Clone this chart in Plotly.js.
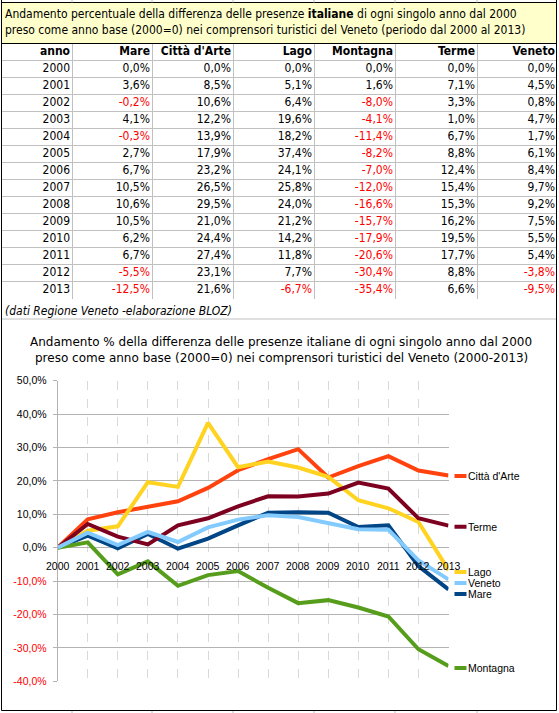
<!DOCTYPE html>
<html><head><meta charset="utf-8">
<script src="https://cdn.plot.ly/plotly-3.0.1.min.js"></script>
<style>html,body{margin:0;padding:0;background:#fff}#chart{width:559px;height:713px}</style>
</head><body><div id="chart"></div>
<script>
// ---- data ----
const years = [2000,2001,2002,2003,2004,2005,2006,2007,2008,2009,2010,2011,2012,2013];
const mare     = [0.0, 3.6, -0.2, 4.1, -0.3, 2.7, 6.7, 10.5, 10.6, 10.5, 6.2, 6.7, -5.5, -12.5];
const cittaArte= [0.0, 8.5, 10.6, 12.2, 13.9, 17.9, 23.2, 26.5, 29.5, 21.0, 24.4, 27.4, 23.1, 21.6];
const lago     = [0.0, 5.1, 6.4, 19.6, 18.2, 37.4, 24.1, 25.8, 24.0, 21.2, 14.2, 11.8, 7.7, -6.7];
const montagna = [0.0, 1.6, -8.0, -4.1, -11.4, -8.2, -7.0, -12.0, -16.6, -15.7, -17.9, -20.6, -30.4, -35.4];
const terme    = [0.0, 7.1, 3.3, 1.0, 6.7, 8.8, 12.4, 15.4, 15.3, 16.2, 19.5, 17.7, 8.8, 6.6];
const veneto   = [0.0, 4.5, 0.8, 4.7, 1.7, 6.1, 8.4, 9.7, 9.2, 7.5, 5.5, 5.4, -3.8, -9.5];
const seriesNames = ["Mare", "Città d'Arte", "Lago", "Montagna", "Terme", "Veneto"];
const seriesValues = [mare, cittaArte, lago, montagna, terme, veneto];
const tableHeader = ["anno"].concat(seriesNames);
const yTickVals = [-40,-30,-20,-10,0,10,20,30,40,50];
const xTickLabels = years.map(String);
const tableTitle1 = "Andamento percentuale della differenza delle presenze <b>italiane</b> di ogni singolo anno dal 2000";
const tableTitle2 = "preso come anno base (2000=0) nei comprensori turistici del Veneto (periodo dal 2000 al 2013)";
const sourceNote = "(dati Regione Veneto -elaborazione BLOZ)";
const chartTitle1 = "Andamento % della differenza delle presenze italiane di ogni singolo anno dal 2000";
const chartTitle2 = "preso come anno base (2000=0) nei comprensori turistici del Veneto (2000-2013)";

// ---- styles / layout ----
const W = 559, H = 713;
const colors = {"Mare":"#004586","Città d'Arte":"#ff420e","Lago":"#ffd320","Montagna":"#579d1c","Terme":"#7e0021","Veneto":"#83caff"};
const labelShift = {"Mare":-4.5,"Città d'Arte":-0.5,"Lago":-2,"Montagna":-2,"Terme":-1,"Veneto":-3.6};
const sheetFont = "DejaVu Sans Condensed, DejaVu Sans";
const chartFont = "Liberation Sans, Arial";
const px = x => x / W;
const py = y => 1 - y / H;
const fmt = v => v.toFixed(1).replace('.', ',') + '%';

// table geometry (pixel-unit axis)
const colBounds = [2,72,152,233,314,395,477,557];
const tableTop = 44, rowH = 16.97, nRows = years.length + 1;
const tableBottom = tableTop + rowH * nRows;
const cellPadRight = 2;

const traces = [];
const columns = [years.map(String)].concat(seriesValues.map(s=>s.map(fmt)));
const columnColors = [years.map(()=> '#000')].concat(seriesValues.map(s=>s.map(v=> v<0 ? '#ff0000' : '#000')));
columns.forEach((col,c)=>{
  const xr = colBounds[c+1] - cellPadRight;
  traces.push({type:'scatter', mode:'text', xaxis:'x3', yaxis:'y3', showlegend:false, hoverinfo:'skip',
    x: [xr].concat(col.map(()=>xr)),
    y: [0.5].concat(col.map((_,r)=>r+1.5)),
    text: ['<b>'+tableHeader[c]+'</b>'].concat(col),
    textposition:'middle left', cliponaxis:false,
    textfont:{family:sheetFont, size:12, color:['#000'].concat(columnColors[c])}});
});

seriesNames.forEach((name,i)=>{
  traces.push({type:'scatter', mode:'lines', x:years, y:seriesValues[i], name:name,
    line:{color:colors[name], width:4}, xaxis:'x', yaxis:'y', showlegend:false, hoverinfo:'skip'});
});

const annotations = [
  {text:tableTitle1, xref:'paper', yref:'paper', x:px(3), y:py(14), xanchor:'left', yanchor:'middle', showarrow:false, font:{family:sheetFont, size:12, color:'#000'}},
  {text:tableTitle2, xref:'paper', yref:'paper', x:px(3), y:py(30), xanchor:'left', yanchor:'middle', showarrow:false, font:{family:sheetFont, size:12, color:'#000'}},
  {text:'<i>'+sourceNote+'</i>', xref:'paper', yref:'paper', x:px(3), y:py(311), xanchor:'left', yanchor:'middle', showarrow:false, font:{family:sheetFont, size:12, color:'#000'}},
  {text:chartTitle1, xref:'paper', yref:'paper', x:px(281), y:py(342), xanchor:'center', yanchor:'middle', showarrow:false, font:{family:'DejaVu Sans', size:12, color:'#000'}},
  {text:chartTitle2, xref:'paper', yref:'paper', x:px(281), y:py(358), xanchor:'center', yanchor:'middle', showarrow:false, font:{family:'DejaVu Sans', size:12, color:'#000'}},
];
// x-axis labels sit on the 0 line
years.forEach((yr,k)=>{
  annotations.push({text:xTickLabels[k], xref:'x', yref:'y', x:yr, y:0, xanchor:'center', yanchor:'middle', yshift:-18,
    showarrow:false, font:{family:chartFont, size:10.5, color:'#000'}});
});
const shapes = [
  {type:'rect', xref:'paper', yref:'paper', x0:px(1.5), x1:px(556.5), y0:py(2.5), y1:py(43.5), fillcolor:'#ffffcc', line:{color:'#000', width:1}, layer:'below'},
  {type:'line', xref:'paper', yref:'paper', x0:px(2), x1:px(557), y0:py(319), y1:py(319), line:{color:'#c0c0c0', width:1}},
  {type:'line', xref:'paper', yref:'paper', x0:px(1.5), x1:px(1.5), y0:py(0), y1:py(710.5), line:{color:'#000', width:1}},
  {type:'line', xref:'paper', yref:'paper', x0:px(556.5), x1:px(556.5), y0:py(0), y1:py(710.5), line:{color:'#000', width:1}},
  {type:'line', xref:'paper', yref:'paper', x0:px(1.5), x1:px(556.5), y0:py(710.5), y1:py(710.5), line:{color:'#000', width:1}},
];
colBounds.slice(1,7).forEach(b=>{
  shapes.push({type:'line', xref:'paper', yref:'paper', x0:px(b), x1:px(b), y0:py(711), y1:py(713), line:{color:'#c0c0c0', width:1}});
  shapes.push({type:'line', xref:'paper', yref:'paper', x0:px(b), x1:px(b), y0:py(0), y1:py(2.5), line:{color:'#c0c0c0', width:1}});
});
seriesNames.forEach((name,i)=>{
  const last = seriesValues[i][seriesValues[i].length-1];
  const lastX = years[years.length-1];
  shapes.push({type:'line', xref:'x domain', yref:'y', xsizemode:'pixel', ysizemode:'pixel', xanchor:1, yanchor:last,
    x0:6, x1:18, y0:labelShift[name], y1:labelShift[name], line:{color:colors[name], width:4}});
  annotations.push({text:name, xref:'x', yref:'y', x:lastX, y:last, xanchor:'left', yanchor:'middle', xshift:17, yshift:labelShift[name],
    showarrow:false, font:{family:chartFont, size:10.5, color:'#000'}});
});

const yTickText = yTickVals.map(v => v<0 ? '<span style="color:#ff0000">'+fmt(v)+'</span>' : fmt(v));
const yDom = [py(681.3), py(380.7)];
const rowLines = Array.from({length:nRows+1}, (_,k)=>k);

const layout = {
  width:W, height:H, margin:{l:0,r:0,t:0,b:0}, paper_bgcolor:'#fff', plot_bgcolor:'rgba(0,0,0,0)', showlegend:false,
  xaxis:{domain:[px(57.7), px(448.5)], range:[2000,2013], tickvals:years, showticklabels:false, showgrid:true,
    gridcolor:'#d9d9d9', griddash:'dash', gridwidth:1, zeroline:false, showline:false, ticks:'', fixedrange:true},
  yaxis:{domain:yDom, range:[-40,50], tickvals:yTickVals, ticktext:yTickText, showgrid:true, gridcolor:'#b3b3b3',
    zeroline:false, showline:true, linecolor:'#b3b3b3', ticks:'outside', ticklen:4, tickcolor:'#b3b3b3',
    tickfont:{family:chartFont, size:10.5, color:'#000'}, ticklabelstandoff:4},
  xaxis3:{domain:[px(colBounds[0]), px(colBounds[7])], range:[colBounds[0], colBounds[7]], anchor:'y3',
    tickvals:colBounds.slice(1,7), showticklabels:false, showgrid:true, gridcolor:'#c0c0c0', gridwidth:1, zeroline:false, showline:false, ticks:''},
  yaxis3:{domain:[py(tableBottom), py(tableTop)], range:[nRows, 0], anchor:'x3',
    tickvals:rowLines.slice(1), showticklabels:false, showgrid:true, gridcolor:'#c0c0c0', gridwidth:1, zeroline:false, showline:false, ticks:''},
  annotations:annotations, shapes:shapes
};
Plotly.newPlot('chart', traces, layout, {staticPlot:true, displayModeBar:false});
</script></body></html>
